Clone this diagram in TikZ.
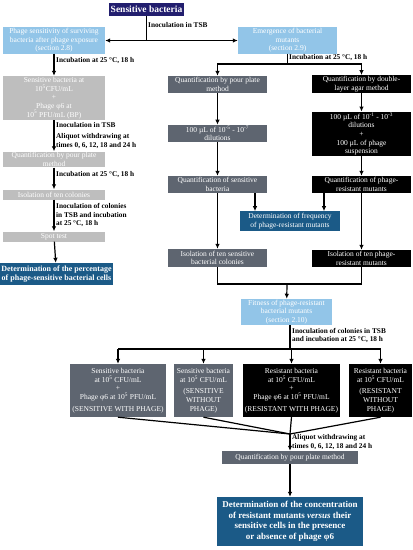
\documentclass[tikz,border=0pt]{standalone}
\usepackage{fontspec}
\setmainfont{Liberation Serif}
\usetikzlibrary{arrows.meta}

\definecolor{navy}{RGB}{34,30,110}
\definecolor{skyblue}{RGB}{146,197,232}
\definecolor{lightgrey}{RGB}{190,190,190}
\definecolor{slate}{RGB}{94,101,112}
\definecolor{deepblue}{RGB}{27,90,135}

\newcommand{\tenp}[1]{10\textsuperscript{#1}}

\begin{document}
\begin{tikzpicture}[x=1pt,y=-1pt,
  box/.style={rectangle,inner sep=1pt,align=center,text=white,font=\fontsize{7.5}{8.6}\selectfont},
  sky/.style={box,fill=skyblue},
  pale/.style={box,fill=lightgrey},
  slatebox/.style={box,fill=slate},
  blackbox/.style={box,fill=black},
  result/.style={box,fill=deepblue,font=\bfseries\fontsize{8}{9.5}\selectfont},
  note/.style={anchor=west,align=left,inner sep=0pt,font=\bfseries\fontsize{7.3}{8.6}\selectfont},
  flow/.style={line width=1.2pt},
  >={Latex[length=5pt,width=4.5pt]}]

    \useasboundingbox (0,0) rectangle (413,550);

    % top
    \node[box,fill=navy,font=\bfseries\fontsize{9.5}{10}\selectfont,minimum width=75,minimum height=13] (src) at (146.5,9.5) {Sensitive bacteria};
    \node[sky,minimum width=102,minimum height=25] (sens)  at (54,40.5)    {Phage sensitivity of surviving\\bacteria after phage exposure\\(section 2.8)};
    \node[sky,minimum width=99,minimum height=25]  (emerg) at (287.5,40.5) {Emergence of bacterial\\mutants\\(section 2.9)};

    % left column
    \node[pale,minimum width=102,minimum height=44] (bp)    at (54,98)    {Sensitive bacteria at\\\tenp{5}CFU/mL\\+\\Phage φ6 at\\\tenp{5} PFU/mL (BP)};
    \node[pale,minimum width=102,minimum height=15] (lpour) at (54,159.5) {Quantification by pour plate\\method};
    \node[pale,minimum width=102,minimum height=10] (lten)  at (54,194.5) {Isolation of ten colonies};
    \node[pale,minimum width=102,minimum height=10] (spot)  at (54,236.5) {Spot test};
    \node[result,minimum width=113,minimum height=22] (perc) at (56.5,274) {Determination of the percentage\\of phage-sensitive bacterial cells};

    % middle column
    \node[slatebox,minimum width=99,minimum height=17] (mpour) at (217.5,84.5)  {Quantification by pour plate\\method};
    \node[slatebox,minimum width=99,minimum height=17] (mdil)  at (217.5,133.5) {100 µL of \tenp{-5} - \tenp{-7}\\dilutions};
    \node[slatebox,minimum width=99,minimum height=17] (msens) at (217.5,184.5) {Quantification of sensitive\\bacteria};
    \node[box,fill=deepblue,minimum width=100,minimum height=20] (freq) at (290,221) {Determination of frequency\\of phage-resistant mutants};
    \node[slatebox,minimum width=99,minimum height=18] (mten)  at (217.5,258)   {Isolation of ten sensitive\\bacterial colonies};

    % right column
    \node[blackbox,minimum width=99,minimum height=16] (rdouble) at (361.5,84)    {Quantification by double-\\layer agar method};
    \node[blackbox,minimum width=99,minimum height=44] (rdil)    at (361.5,134)   {100 µL of \tenp{-1} - \tenp{-3}\\dilutions\\+\\100 µL of phage\\suspension};
    \node[blackbox,minimum width=99,minimum height=17] (rquant)  at (361.5,184.5) {Quantification of phage-\\resistant mutants};
    \node[blackbox,minimum width=99,minimum height=17] (rten)    at (361.5,258.5) {Isolation of ten phage-\\resistant mutants};

    % fitness part
    \node[sky,minimum width=91,minimum height=26] (fit) at (286.5,312) {Fitness of phage-resistant\\bacterial mutants\\(section 2.10)};
    \node[slatebox,minimum width=96,minimum height=53] (swp) at (118,390.5)   {Sensitive bacteria\\at \tenp{5} CFU/mL\\+\\Phage φ6 at \tenp{5} PFU/mL\\[3pt](SENSITIVE WITH PHAGE)};
    \node[slatebox,minimum width=59,minimum height=53] (swo) at (203.5,390.5) {Sensitive bacteria\\at \tenp{5} CFU/mL\\[3pt](SENSITIVE\\WITHOUT\\PHAGE)};
    \node[blackbox,minimum width=97,minimum height=53] (rwp) at (291.5,390.5) {Resistant bacteria\\at \tenp{5} CFU/mL\\+\\Phage φ6 at \tenp{5} PFU/mL\\[3pt](RESISTANT WITH PHAGE)};
    \node[blackbox,minimum width=63,minimum height=53] (rwo) at (380.5,390.5) {Resistant bacteria\\at \tenp{5} CFU/mL\\[3pt](RESISTANT\\WITHOUT\\PHAGE)};
    \node[slatebox,minimum width=136,minimum height=13] (qpour) at (290,457.5) {Quantification by pour plate method};
    \node[result,font=\bfseries\fontsize{9}{10.5}\selectfont,minimum width=146,minimum height=49] (final) at (290,521.5) {Determination of the concentration\\of resistant mutants \textit{versus} their\\sensitive cells in the presence\\or absence of phage φ6};

    % junctions
    \coordinate (j1) at (146.5,40.5);
    \coordinate (j2) at (287.5,64);
    \coordinate (j3) at (287,284);
    \coordinate (j4) at (290,349);
    \coordinate (j5) at (290,434);

    % connectors
    \draw[flow] (src) -- (j1);
    \draw[flow,->] (j1) -- (sens);
    \draw[flow,->] (j1) -- (emerg);
    \draw[flow,->] (sens) -- (bp);
    \draw[flow,->] (bp) -- (lpour);
    \draw[flow,->] (lpour) -- (lten);
    \draw[flow,->] (lten) -- (spot);
    \draw[flow,->] (spot) -- (perc);

    \draw[flow] (emerg) -- (j2);
    \draw[flow,->] (j2) -| (mpour);
    \draw[flow,->] (j2) -| (rdouble);
    \draw[flow,->] (mpour) -- (mdil);
    \draw[flow,->] (mdil) -- (msens);
    \draw[flow,->] (msens) -- (mten);
    \draw[flow,->] ([xshift=37.5pt]msens.south) -- ++(0,18);
    \draw[flow,->] (rdouble) -- (rdil);
    \draw[flow,->] (rdil) -- (rquant);
    \draw[flow,->] (rquant) -- (rten);
    \draw[flow,->] ([xshift=-37.5pt]rquant.south) -- ++(0,18);

    \draw[flow] (mten.south) |- (j3) -| (rten.south);
    \draw[flow,->] (j3) -- (fit);

    \draw[flow] (fit.south -| j4) -- (j4);
    \draw[flow] (swp |- j4) -- (rwo |- j4);
    \foreach \b in {swp,swo,rwp,rwo}
      \draw[flow,->] (\b |- j4) -- (\b);
    \foreach \b in {swp,swo,rwp,rwo}
      \draw[flow] (\b.south) -- (j5);
    \draw[flow,->] (j5) -- (qpour);
    \draw[flow,->] (qpour) -- (final);

    % labels
    \node[note] (l1) at (148,25)  {Inoculation in TSB};
    \node[note] (l2) at (56,61)   {Incubation at 25 °C, 18 h};
    \node[note] (l3) at (56,125)  {Inoculation in TSB};
    \node[note] (l4) at (56,141)  {Aliquot withdrawing at\\times 0, 6, 12, 18 and 24 h};
    \node[note] (l5) at (56,175)  {Incubation at 25 °C, 18 h};
    \node[note] (l6) at (56,215)  {Inoculation of colonies\\in TSB and incubation\\at 25 °C, 18 h};
    \node[note] (l7) at (289,58)  {Incubation at 25 °C, 18 h};
    \node[note] (l8) at (292,335.5) {Inoculation of colonies in TSB\\and incubation at 25 °C, 18 h};
    \node[note] (l9) at (292,442) {Aliquot withdrawing at\\times 0, 6, 12, 18 and 24 h};
  \end{tikzpicture}
\end{document}
